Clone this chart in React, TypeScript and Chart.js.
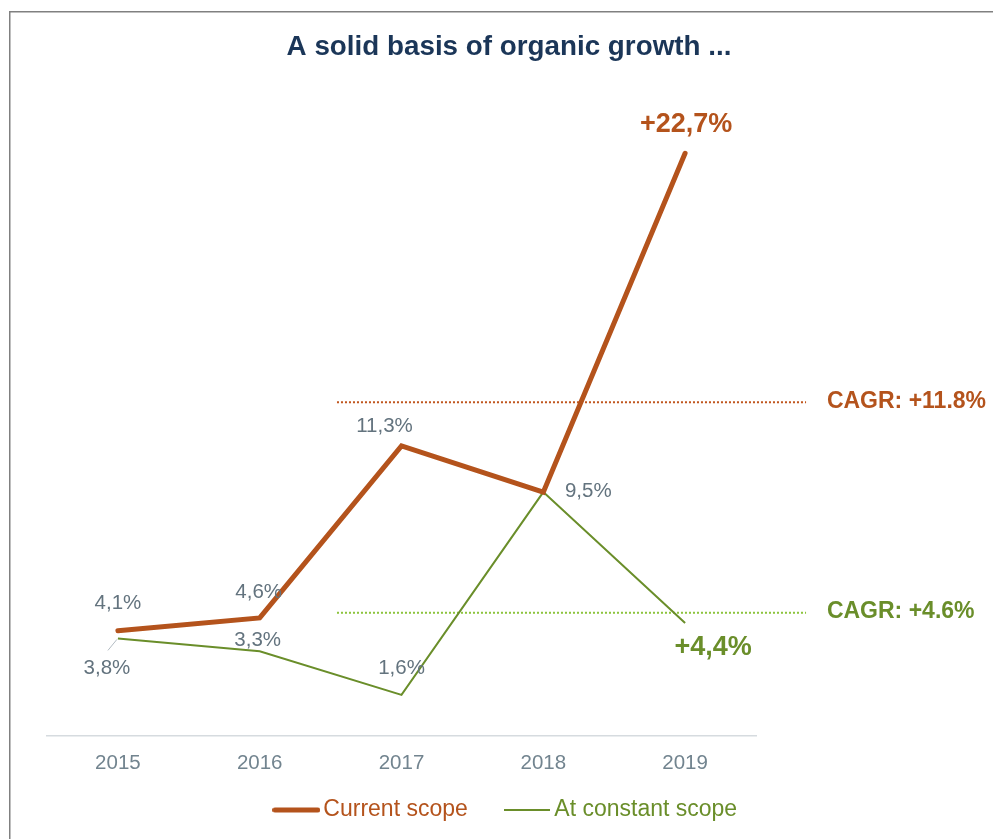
import React, { useEffect, useRef } from 'react';
import { Chart, registerables } from 'chart.js';

Chart.register(...registerables);

// ---------- data ----------
const years = ['2015', '2016', '2017', '2018', '2019'];
const currentScope = [4.1, 4.6, 11.3, 9.5, 22.7];
const constantScope = [3.8, 3.3, 1.6, 9.5, 4.4];
const currentLabels = ['4,1%', '4,6%', '11,3%', '', '+22,7%'];
const constantLabels = ['3,8%', '3,3%', '1,6%', '9,5%', '+4,4%'];
const seriesNames = ['Current scope', 'At constant scope'];
const cagrTexts = ['CAGR: +11.8%', 'CAGR: +4.6%'];
const cagrLevels = [13.0, 4.8];
const yRange = [0, 24];
const titleText = 'A solid basis of organic growth ...';

// ---------- styles ----------
const ORANGE = '#b4531c';
const GREEN = '#6a8e2a';
const ORANGE_DOT = '#c0561e';
const GREEN_DOT = '#8cc43c';
const LABEL_GREY = '#63737e';
const TICK_GREY = '#72848f';
const NAVY = '#1b3658';
const FONT = '"Liberation Sans", Arial, Helvetica, sans-serif';

type LabelStyle = { dx: number; dy: number; big?: boolean; leader?: boolean } | null;
const labelStyles: LabelStyle[][] = [
  [{ dx: 0, dy: -27 }, { dx: -1, dy: -26 }, { dx: -17, dy: -20 }, null, { dx: 1, dy: -29, big: true }],
  [{ dx: -11, dy: 30, leader: true }, { dx: -2, dy: -11 }, { dx: 0, dy: -27 }, { dx: 45, dy: -1 }, { dx: 28, dy: 25, big: true }],
];
const cagrSpan = { from: 1.545, to: 4.853, text: 5.0 };

function makeLineImage(color: string, width: number, height: number, lineWidth: number, cap: CanvasLineCap) {
  const c = document.createElement('canvas');
  c.width = width;
  c.height = height;
  const ctx = c.getContext('2d')!;
  ctx.strokeStyle = color;
  ctx.lineWidth = lineWidth;
  ctx.lineCap = cap;
  const inset = cap === 'round' ? lineWidth / 2 : 0;
  ctx.beginPath();
  ctx.moveTo(inset, height / 2);
  ctx.lineTo(width - inset, height / 2);
  ctx.stroke();
  return c;
}

const framePlugin = {
  id: 'frame',
  afterLayout(chart: any) {
    // let x tick labels extend below the (compact) axis box without being clipped
    const xs = chart.scales.x;
    xs.bottom = xs.top + 48;
  },
  beforeDraw(chart: any) {
    const ctx = chart.ctx;
    ctx.save();
    ctx.strokeStyle = '#808080';
    ctx.lineWidth = 1.5;
    ctx.beginPath();
    ctx.moveTo(9.75, chart.height);
    ctx.lineTo(9.75, 11.75);
    ctx.lineTo(chart.width, 11.75);
    ctx.stroke();
    ctx.restore();
  },
};

const cagrPlugin = {
  id: 'cagr',
  beforeDatasetsDraw(chart: any) {
    const ctx = chart.ctx;
    const xs = chart.scales.x;
    const ys = chart.scales.y;
    const lineColors = [ORANGE_DOT, GREEN_DOT];
    const textColors = [ORANGE, GREEN];
    ctx.save();
    cagrLevels.forEach((lvl, k) => {
      const y = ys.getPixelForValue(lvl);
      const x1 = xs.getPixelForValue(cagrSpan.from);
      const x2 = xs.getPixelForValue(cagrSpan.to);
      ctx.strokeStyle = lineColors[k];
      ctx.lineWidth = 2;
      ctx.setLineDash([2, 2]);
      ctx.beginPath();
      ctx.moveTo(x1, y);
      ctx.lineTo(x2, y);
      ctx.stroke();
      ctx.setLineDash([]);
      ctx.fillStyle = textColors[k];
      ctx.font = `bold 23px ${FONT}`;
      ctx.textAlign = 'left';
      ctx.textBaseline = 'middle';
      ctx.fillText(cagrTexts[k], xs.getPixelForValue(cagrSpan.text), y - 1);
    });
    ctx.restore();
  },
};

const labelsPlugin = {
  id: 'pointLabels',
  afterDatasetsDraw(chart: any) {
    const ctx = chart.ctx;
    const texts = [currentLabels, constantLabels];
    const colors = [ORANGE, GREEN];
    ctx.save();
    ctx.textAlign = 'center';
    ctx.textBaseline = 'middle';
    [0, 1].forEach((di) => {
      const meta = chart.getDatasetMeta(di);
      meta.data.forEach((pt: any, j: number) => {
        const st = labelStyles[di][j];
        const txt = texts[di][j];
        if (!st || !txt) return;
        const x = pt.x + st.dx;
        const y = pt.y + st.dy;
        if (st.leader) {
          ctx.strokeStyle = '#b3bcc3';
          ctx.lineWidth = 1;
          ctx.beginPath();
          ctx.moveTo(pt.x - 10, pt.y + 12);
          ctx.lineTo(pt.x - 1, pt.y + 1);
          ctx.stroke();
        }
        if (st.big) {
          ctx.font = `bold 27px ${FONT}`;
          ctx.fillStyle = colors[di];
        } else {
          ctx.font = `20.5px ${FONT}`;
          ctx.fillStyle = LABEL_GREY;
        }
        ctx.fillText(txt, x, y);
      });
    });
    ctx.restore();
  },
};

export default function App() {
  const ref = useRef<HTMLCanvasElement | null>(null);

  useEffect(() => {
    if (!ref.current) return;
    const legendImages = [
      makeLineImage(ORANGE, 48, 6, 5, 'round'),
      makeLineImage(GREEN, 46, 2, 2, 'butt'),
    ];
    const legendColors = [ORANGE, GREEN];

    const chart = new Chart(ref.current, {
      type: 'line',
      data: {
        labels: years,
        datasets: [
          {
            label: seriesNames[0],
            data: currentScope,
            borderColor: ORANGE,
            backgroundColor: ORANGE,
            borderWidth: 5,
            pointRadius: 0,
            pointHoverRadius: 0,
            borderCapStyle: 'round',
            borderJoinStyle: 'miter',
            tension: 0,
            fill: false,
            yAxisID: 'y',
          },
          {
            label: seriesNames[1],
            data: constantScope,
            borderColor: GREEN,
            backgroundColor: GREEN,
            borderWidth: 2,
            pointRadius: 0,
            pointHoverRadius: 0,
            borderJoinStyle: 'miter',
            tension: 0,
            fill: false,
            yAxisID: 'y',
          },
        ],
      },
      options: {
        responsive: false,
        animation: false,
        events: [],
        layout: { padding: { left: 34, right: 9, top: 12, bottom: 7.5 } },
        plugins: {
          title: {
            display: true,
            text: titleText,
            color: NAVY,
            font: { family: FONT, size: 27.8, weight: 'bold', lineHeight: 1.2 },
            padding: { top: 18.3, bottom: 56.2 },
          },
          legend: {
            display: true,
            position: 'bottom',
            labels: {
              usePointStyle: true,
              pointStyleWidth: 31,
              padding: 44,
              font: { family: FONT, size: 23 },
              generateLabels: (c: any) =>
                c.data.datasets.map((ds: any, i: number) => ({
                  text: ds.label,
                  fontColor: legendColors[i],
                  pointStyle: legendImages[i],
                  fillStyle: 'transparent',
                  strokeStyle: 'transparent',
                  lineWidth: 0,
                  hidden: false,
                  datasetIndex: i,
                })),
            },
          },
          tooltip: { enabled: false },
        },
        scales: {
          x: {
            type: 'category',
            offset: true,
            grid: { display: false, drawTicks: false },
            border: { display: true, color: '#d6dbdf', width: 1.5 },
            ticks: { color: TICK_GREY, font: { family: FONT, size: 20.5 }, padding: 14.7 },
            afterFit: (s: any) => {
              s.height = 18.5;
            },
          },
          y: {
            type: 'linear',
            position: 'left',
            min: yRange[0],
            max: yRange[1],
            grid: { display: false, drawTicks: false },
            border: { display: false },
            ticks: { display: false },
            afterFit: (s: any) => {
              s.width = 13;
            },
          },
          y2: {
            type: 'linear',
            position: 'right',
            grid: { display: false, drawTicks: false },
            border: { display: false },
            ticks: { display: false },
            afterFit: (s: any) => {
              s.width = 228;
            },
          },
        },
      } as any,
      plugins: [framePlugin, cagrPlugin, labelsPlugin],
    });
    return () => chart.destroy();
  }, []);

  return (
    <div style={{ position: 'absolute', left: 0, top: 0, width: 993, height: 839, background: '#ffffff' }}>
      <canvas ref={ref} width={993} height={839} style={{ display: 'block', width: 993, height: 839 }} />
    </div>
  );
}
